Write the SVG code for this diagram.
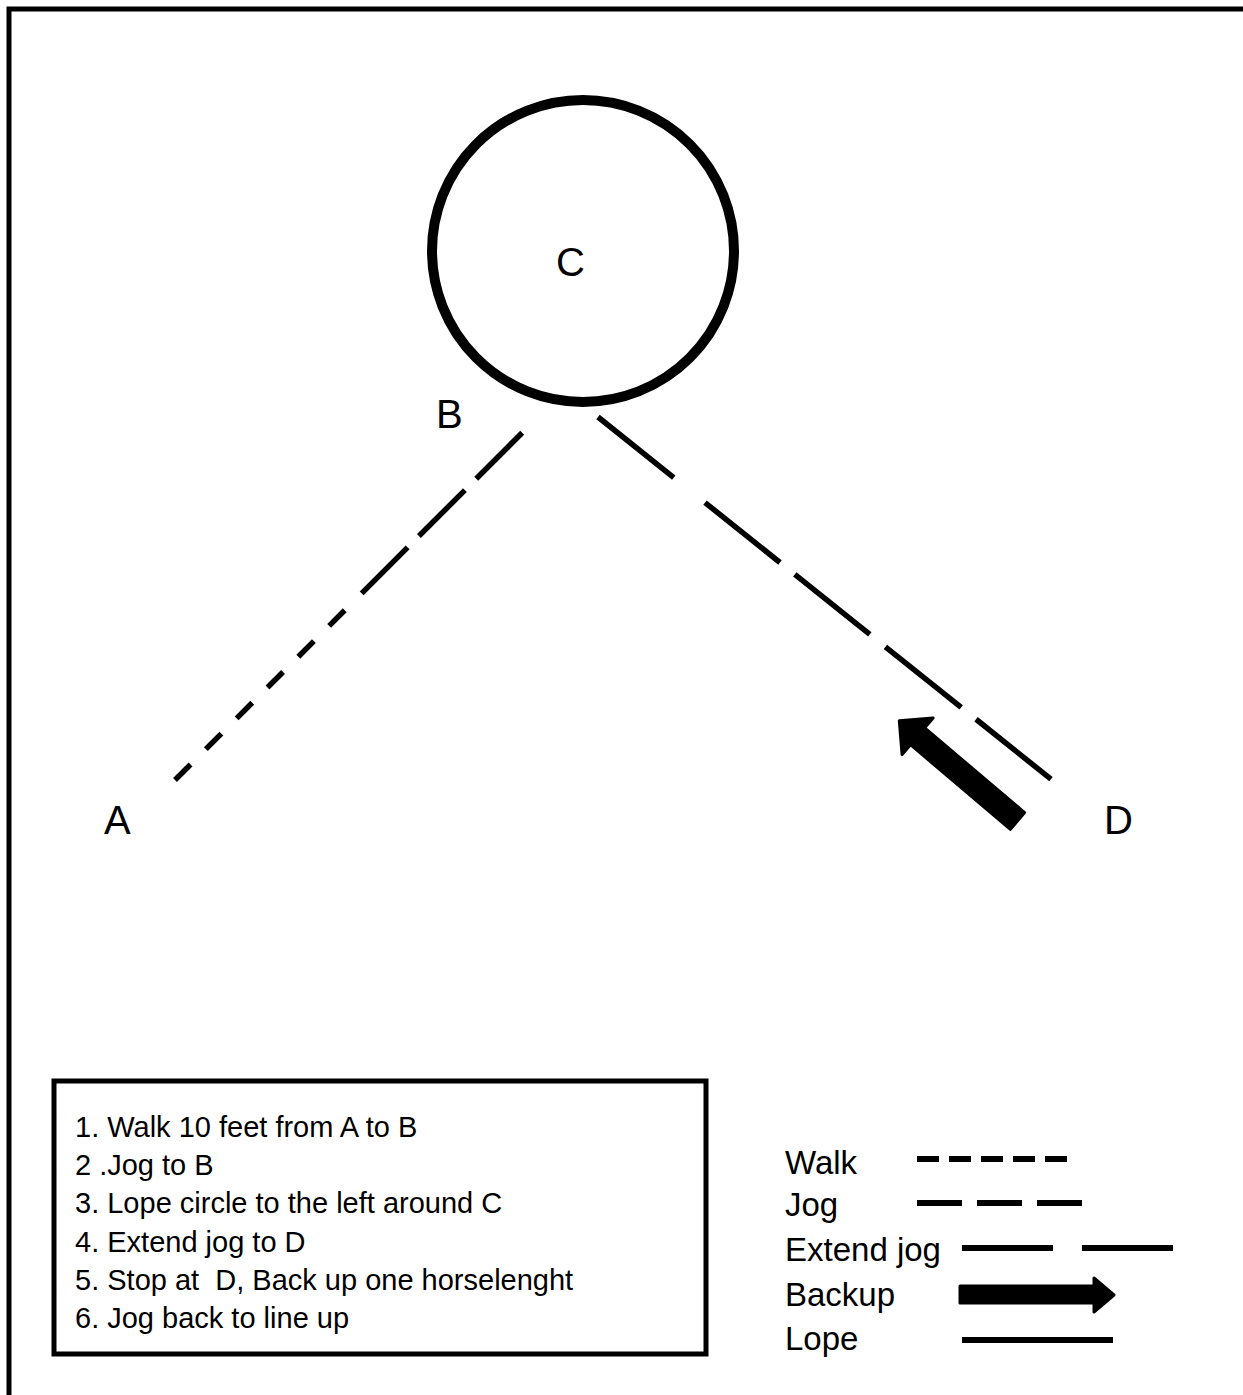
<svg xmlns="http://www.w3.org/2000/svg" width="1243" height="1395" viewBox="0 0 1243 1395">
  <style>
    .lbl { font-family: "Liberation Sans", Arial, sans-serif; font-size: 40px; fill: #000; }
    .list { font-family: "Liberation Sans", Arial, sans-serif; font-size: 29px; fill: #000; }
    .leg { font-family: "Liberation Sans", Arial, sans-serif; font-size: 33px; fill: #000; }
    .path { fill: none; stroke: #000; stroke-width: 5.5; stroke-linecap: butt; }
    .legline { fill: none; stroke: #000; stroke-width: 6; stroke-linecap: butt; }
    .arrow { fill: #000; stroke: #000; stroke-width: 3; stroke-linejoin: round; }
  </style>
  <rect x="0" y="0" width="1243" height="1395" fill="#fff"/>
  <g id="frame">
    <path d="M9,1400 L9,9 L1250,9" fill="none" stroke="#000" stroke-width="5"/>
  </g>
  <g id="node-C">
    <circle cx="583" cy="251" r="151" fill="none" stroke="#000" stroke-width="10"/>
    <text class="lbl" x="556" y="276">C</text>
  </g>
  <g id="node-B">
    <text class="lbl" x="436" y="428">B</text>
  </g>
  <g id="node-A">
    <text class="lbl" x="104" y="834">A</text>
  </g>
  <g id="node-D">
    <text class="lbl" x="1104" y="834">D</text>
  </g>
  <g id="connectors">
    <path class="path" d="M175,780 L523,432" stroke-dasharray="22 21.6 22 21.6 22 21.6 22 21.6 22 21.6 22 24 65 16 65 16 65 40"/>
    <path class="path" d="M598,417 L1052,780" stroke-dasharray="97 40 96 19 96 20 97 19 96 40"/>
    <path class="arrow" transform="translate(1017.5,821) rotate(-139.7)" d="M0,-11 L131,-11 L131,-24 L155,0 L131,24 L131,11 L0,11 Z"/>
  </g>
  <g id="instructions">
    <rect x="54" y="1081" width="652" height="273" fill="none" stroke="#000" stroke-width="5"/>
    <text class="list" x="75" y="1137">1. Walk 10 feet from A to B</text>
    <text class="list" x="75" y="1175">2 .Jog to B</text>
    <text class="list" x="75" y="1213">3. Lope circle to the left around C</text>
    <text class="list" x="75" y="1252">4. Extend jog to D</text>
    <text class="list" x="75" y="1290" xml:space="preserve">5. Stop at  D, Back up one horselenght</text>
    <text class="list" x="75" y="1328">6. Jog back to line up</text>
  </g>
  <g id="legend">
    <text class="leg" x="785" y="1174">Walk</text>
    <path class="legline" d="M917,1159 L1067,1159" stroke-dasharray="22 10"/>
    <text class="leg" x="785" y="1216">Jog</text>
    <path class="legline" d="M917,1203 L1083,1203" stroke-dasharray="45 15"/>
    <text class="leg" x="785" y="1261">Extend jog</text>
    <path class="legline" d="M962,1248 L1173,1248" stroke-dasharray="91 29"/>
    <text class="leg" x="785" y="1306">Backup</text>
    <path class="arrow" d="M960,1286 L1094,1286 L1094,1278 L1114,1295 L1094,1312 L1094,1303 L960,1303 Z"/>
    <text class="leg" x="785" y="1350">Lope</text>
    <path class="legline" d="M962,1340 L1113,1340"/>
  </g>
</svg>
